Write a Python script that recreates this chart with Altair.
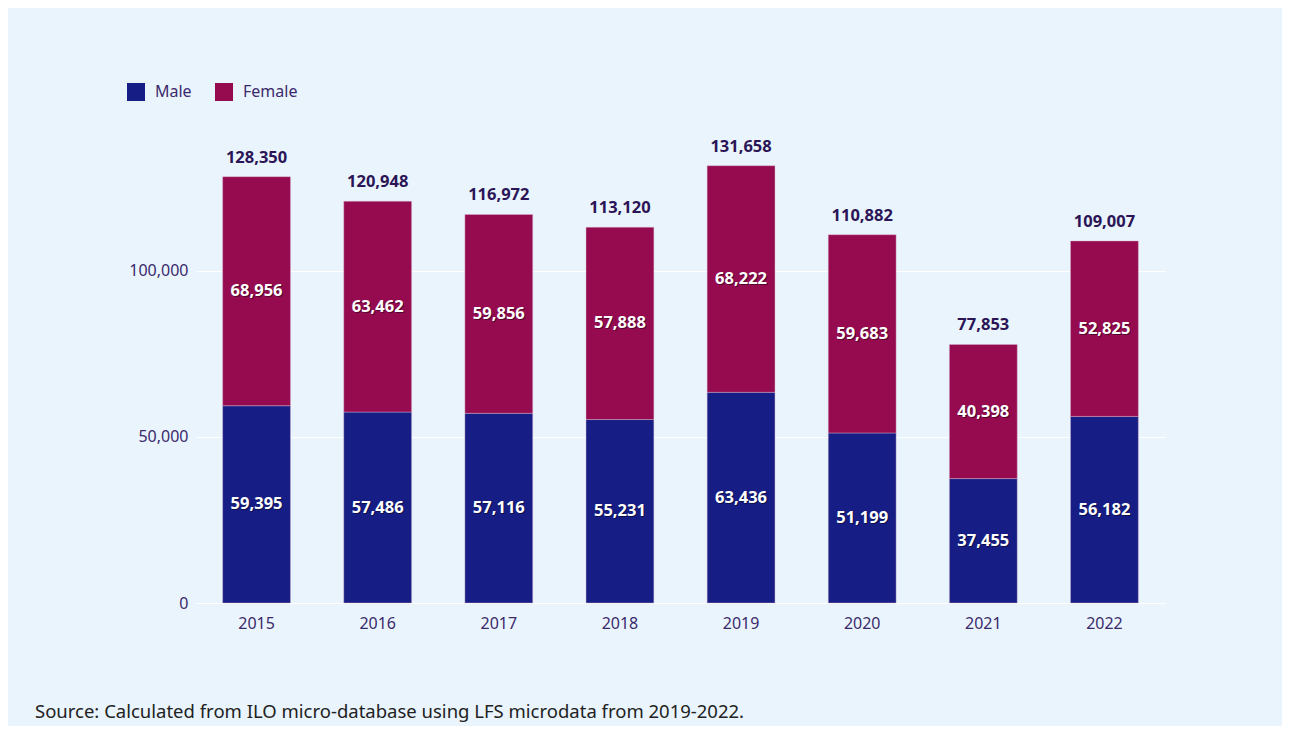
import altair as alt
import pandas as pd

years = ["2015", "2016", "2017", "2018", "2019", "2020", "2021", "2022"]
male = [59395, 57486, 57116, 55231, 63436, 51199, 37455, 56182]
female = [68956, 63462, 59856, 57888, 68222, 59683, 40398, 52825]
totals = [128350, 120948, 116972, 113120, 131658, 110882, 77853, 109007]
series = ["Male", "Female"]
colors = ["#161d85", "#960b50"]
source_note = "Source: Calculated from ILO micro-database using LFS microdata from 2019-2022."

rows = []
for i, yr in enumerate(years):
    rows.append({"year": yr, "sex": "Male", "ord": 0, "value": male[i]})
    rows.append({"year": yr, "sex": "Female", "ord": 1, "value": female[i]})
df = pd.DataFrame(rows)
tot = pd.DataFrame({"year": years, "total": totals})

FONT = "Noto Sans"
AXIS_COL = "#3b2a6b"

x_axis = alt.Axis(labelAngle=0, ticks=False, domain=False, labelPadding=12,
                  labelFontSize=16, labelColor=AXIS_COL, labelFont=FONT, grid=False)
y_axis = alt.Axis(values=[0, 50000, 100000], format=",.0f", grid=True, gridColor="#ffffff",
                  gridWidth=1, domain=False, ticks=False, labelPadding=8,
                  labelFontSize=16, labelColor=AXIS_COL, labelFont=FONT)
x_scale = alt.Scale(paddingInner=0.44, paddingOuter=0.22)
y_scale = alt.Scale(domain=[0, 140000], nice=False)


def xe():
    return alt.X("year:N", sort=years, title=None, scale=x_scale, axis=x_axis)


bars = alt.Chart(df).mark_bar(stroke="#d8b8d0", strokeWidth=0.6, strokeOpacity=0.7).encode(
    x=xe(),
    y=alt.Y("value:Q", scale=y_scale, title=None, stack="zero", axis=y_axis),
    color=alt.Color("sex:N", scale=alt.Scale(domain=series, range=colors),
                    legend=alt.Legend(title=None, orient="none", legendX=-69, legendY=-55,
                                      direction="horizontal", symbolType="square", symbolSize=324,
                                      symbolStrokeWidth=0, labelFontSize=16, labelColor=AXIS_COL,
                                      labelFont=FONT, columnPadding=23, labelOffset=10)),
    order=alt.Order("ord:Q", sort="ascending"),
)

base_lbl = alt.Chart(df).transform_stack(
    stack="value", groupby=["year"], as_=["y0", "y1"], sort=[alt.SortField("ord", order="ascending")]
).transform_calculate(mid="(datum.y0 + datum.y1) / 2")

shadow = base_lbl.mark_text(font=FONT, fontSize=16.5, fontWeight="bold", color="#000000",
                            opacity=0.45, dx=1, dy=1).encode(
    x=xe(),
    y=alt.Y("mid:Q", scale=y_scale, title=None, axis=y_axis),
    text=alt.Text("value:Q", format=","),
)
inner = base_lbl.mark_text(font=FONT, fontSize=16.5, fontWeight="bold", color="#ffffff").encode(
    x=xe(),
    y=alt.Y("mid:Q", scale=y_scale, title=None, axis=y_axis),
    text=alt.Text("value:Q", format=","),
)

total_lbl = alt.Chart(tot).mark_text(font=FONT, fontSize=16.5, fontWeight="bold",
                                     color="#2b1556", dy=-19).encode(
    x=xe(),
    y=alt.Y("total:Q", scale=y_scale, title=None, axis=y_axis),
    text=alt.Text("total:Q", format=","),
)

note = alt.Chart(pd.DataFrame({"t": [source_note]})).mark_text(
    font=FONT, fontSize=18.5, color="#222222", align="left", baseline="middle"
).encode(x=alt.value(-161), y=alt.value(574), text="t:N")

chart = alt.layer(bars, shadow, inner, total_lbl, note).properties(
    width=969, height=465,
    background="#e9f4fd",
    autosize=alt.AutoSizeParams(type="none"),
    padding={"left": 188, "top": 130, "right": 117, "bottom": 123},
).configure_view(stroke=None)

chart.save("out.html", embed_options={"renderer": "svg", "actions": False})
